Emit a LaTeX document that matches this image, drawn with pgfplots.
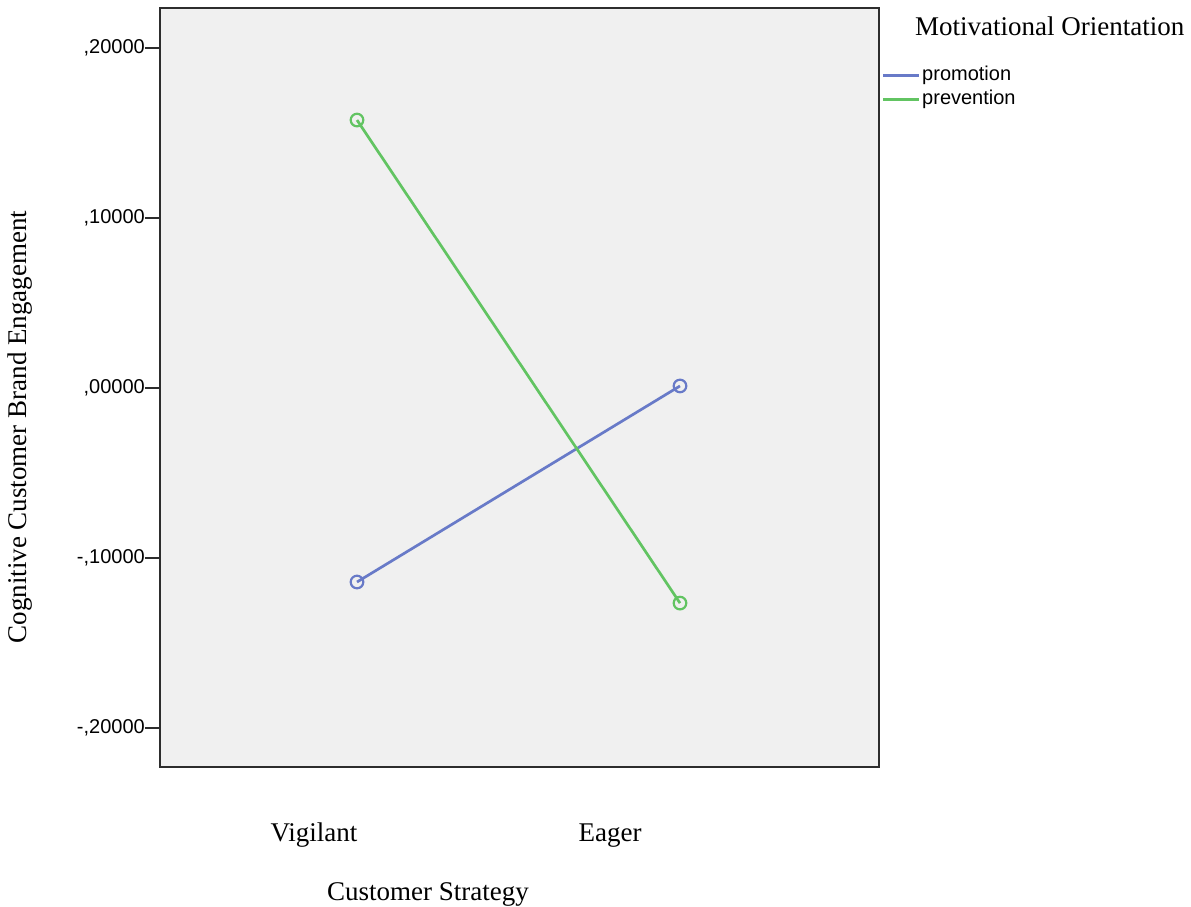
\documentclass[border=0pt]{standalone}
\usepackage{fontspec}
\setmainfont{Liberation Serif}
\setsansfont{Liberation Sans}
\usepackage{pgfplots}
\pgfplotsset{compat=1.18}
\definecolor{promo}{RGB}{104,122,200}
\definecolor{prev}{RGB}{98,196,98}
\definecolor{bg}{RGB}{240,240,240}
\definecolor{frame}{RGB}{45,45,45}
\begin{document}
\begin{tikzpicture}
\begin{axis}[
  at={(160pt,139pt)}, anchor=south west,
  scale only axis, width=719pt, height=759pt,
  xmin=-0.6099, xmax=1.6161, ymin=-0.2229, ymax=0.2235,
  axis background/.style={fill=bg},
  axis line style={draw=frame, line width=1.6pt},
  xtick={-0.1331,0.7833}, xticklabels={Vigilant,Eager},
  x tick style={draw=none},
  xticklabel style={font=\fontsize{27}{30}\selectfont, anchor=base, yshift=-59pt},
  ytick={-0.2,-0.1,0,0.1,0.2},
  ytick pos=left,
  yticklabels={{-,20000},{-,10000},{,00000},{,10000},{,20000}},
  y tick style={draw=frame, line width=2pt},
  tick align=outside, major tick length=15pt,
  yticklabel style={font=\sffamily\fontsize{20}{22}\selectfont, anchor=east, inner sep=0pt},
  xlabel={Customer Strategy},
  xlabel style={at={(axis description cs:0.3727,-0.1765)}, anchor=base, font=\fontsize{27}{30}\selectfont, inner sep=0pt},
  ylabel={Cognitive Customer Brand Engagement},
  ylabel style={at={(axis description cs:-0.185,0.448)}, anchor=base, font=\fontsize{27}{30}\selectfont, inner sep=0pt},
  legend style={at={(axis description cs:1.0042,0.9236)}, anchor=north west, draw=none, fill=none, inner sep=0pt,
    font=\sffamily\fontsize{20}{22}\selectfont, row sep=5pt,
    nodes={inner ysep=0pt, inner xsep=1.5pt, text height=14pt, text depth=5pt, anchor=west}},
  legend cell align=left,
  legend image code/.code={\draw[#1, line width=2.5pt] (0pt,0pt) -- (36pt,0pt);},
  clip=false,
]
\addplot[promo, line width=2.7pt, mark=o, mark size=6.3pt, mark options={line width=2.2pt}] coordinates {(0,-0.1141) (1,0.0012)};
\addlegendentry{promotion}
\addplot[prev, line width=2.7pt, mark=o, mark size=6.3pt, mark options={line width=2.2pt}] coordinates {(0,0.1576) (1,-0.1265)};
\addlegendentry{prevention}
\end{axis}
\node[anchor=base west, font=\fontsize{27}{30}\selectfont, inner sep=0pt] at (915pt,870pt) {Motivational Orientation};
\pgfresetboundingbox
\path (0,0) rectangle (1191pt,906pt);
\end{tikzpicture}
\end{document}
